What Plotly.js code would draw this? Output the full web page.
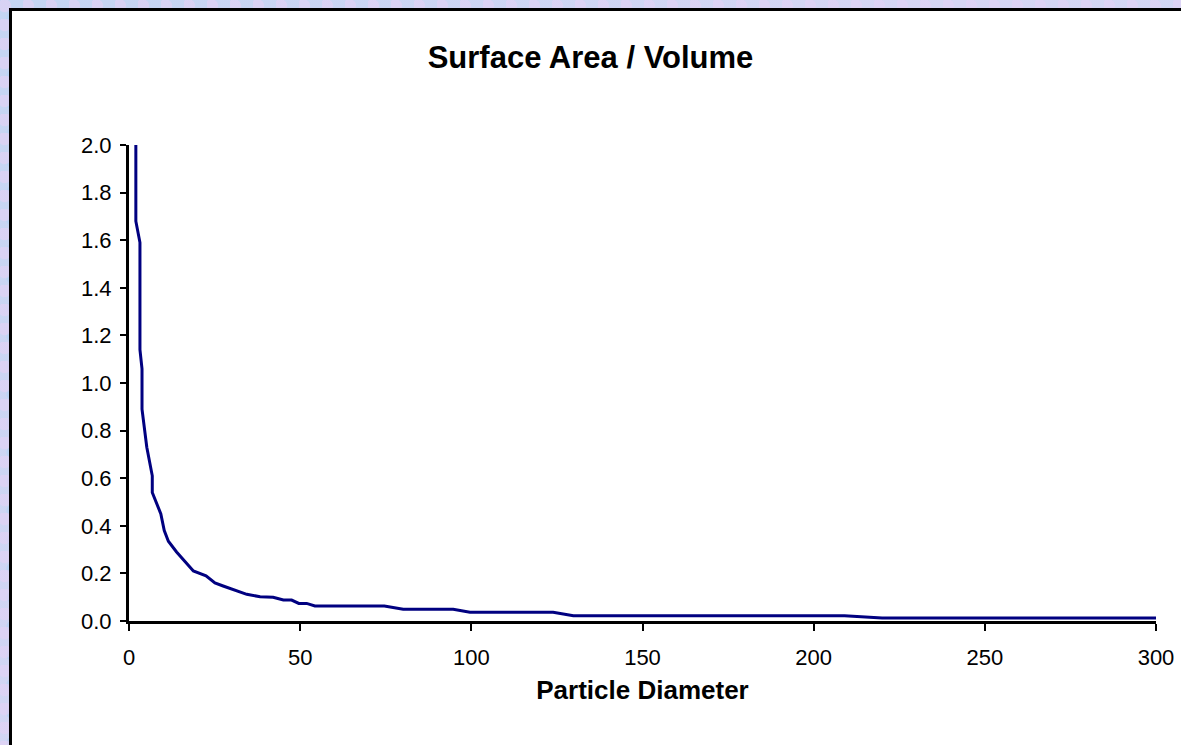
<!DOCTYPE html>
<html>
<head>
<meta charset="utf-8">
<script src="https://cdn.plot.ly/plotly-3.0.1.min.js"></script>
<style>
  html, body { margin: 0; padding: 0; width: 1181px; height: 745px; overflow: hidden; }
  body {
    background-color: #c8d7f4;
    background-image:
      radial-gradient(circle at 20% 30%, rgba(225,210,245,0.7) 0 6px, transparent 7px),
      radial-gradient(circle at 70% 60%, rgba(185,212,245,0.8) 0 5px, transparent 6px),
      linear-gradient(135deg, #c4d5f3 0%, #d6d6f4 50%, #c2d8f3 100%);
    background-size: 23px 19px, 17px 29px, 100% 100%;
  }
  #box { position: absolute; left: 9px; top: 8px; width: 1200px; height: 760px;
         background: #ffffff; border: 3px solid #000000; }
  #chart { position: absolute; left: 0; top: 0; width: 1181px; height: 745px; }
</style>
</head>
<body>
<div id="box"></div>
<div id="chart"></div>
<script>
// Data
const diameter = [2.0, 2.0, 3.2, 3.2, 3.8, 3.8, 5.2, 6.8, 6.8, 8.1,
                  9.3, 10.3, 11.5, 13.9, 16.4, 18.8, 22.5, 25.1, 27.5, 30.5,
                  34.4, 38.3, 42.1, 45.1, 47.5, 49.6, 51.9, 54.3, 74.6, 80.1,
                  94.7, 99.6, 123.9, 129.8, 209, 220, 300];
const ratio = [2.0, 1.68, 1.59, 1.14, 1.06, 0.89, 0.73, 0.61, 0.54, 0.49,
               0.45, 0.38, 0.335, 0.29, 0.25, 0.21, 0.19, 0.16, 0.147, 0.133,
               0.112, 0.102, 0.100, 0.088, 0.088, 0.074, 0.074, 0.063, 0.063, 0.049,
               0.049, 0.037, 0.037, 0.022, 0.022, 0.013, 0.013];
const xTicks = [0, 50, 100, 150, 200, 250, 300];
const yTicks = [0.0, 0.2, 0.4, 0.6, 0.8, 1.0, 1.2, 1.4, 1.6, 1.8, 2.0];
const chartTitle = "Surface Area / Volume";
const xTitle = "Particle Diameter";

const FONT = "Liberation Sans, Arial, sans-serif";

const trace = {
  x: diameter, y: ratio, type: "scatter", mode: "lines",
  line: { color: "#000080", width: 3 },
  hoverinfo: "skip", showlegend: false
};

const layout = {
  width: 1181, height: 745,
  margin: { l: 129, r: 25, t: 145, b: 124, pad: 0 },
  paper_bgcolor: "rgba(0,0,0,0)",
  plot_bgcolor: "rgba(0,0,0,0)",
  font: { family: FONT, color: "#000000", size: 22 },
  title: {
    text: "<b>" + chartTitle + "</b>",
    font: { family: FONT, size: 31, color: "#000000" },
    x: 0.5, xref: "container", xanchor: "center",
    y: 1 - 57 / 745, yref: "container", yanchor: "middle"
  },
  xaxis: {
    range: [0, 300], tickmode: "array", tickvals: xTicks,
    ticktext: xTicks.map(String),
    showgrid: false, zeroline: false,
    showline: true, linecolor: "#000000", linewidth: 3,
    ticks: "outside", ticklen: 7, tickwidth: 2, tickcolor: "#000000",
    tickfont: { family: FONT, size: 22, color: "#000000" },
    ticklabelstandoff: 8,
    title: { text: "<b>" + xTitle + "</b>", font: { family: FONT, size: 26, color: "#000000" }, standoff: 12 },
    fixedrange: true
  },
  yaxis: {
    range: [0, 2], tickmode: "array", tickvals: yTicks,
    ticktext: yTicks.map(v => v.toFixed(1)),
    showgrid: false, zeroline: false,
    showline: true, linecolor: "#000000", linewidth: 3,
    ticks: "outside", ticklen: 6, tickwidth: 2, tickcolor: "#000000",
    tickfont: { family: FONT, size: 22, color: "#000000" },
    ticklabelstandoff: 4,
    fixedrange: true
  }
};

Plotly.newPlot("chart", [trace], layout, { staticPlot: true, displayModeBar: false });
</script>
</body>
</html>
